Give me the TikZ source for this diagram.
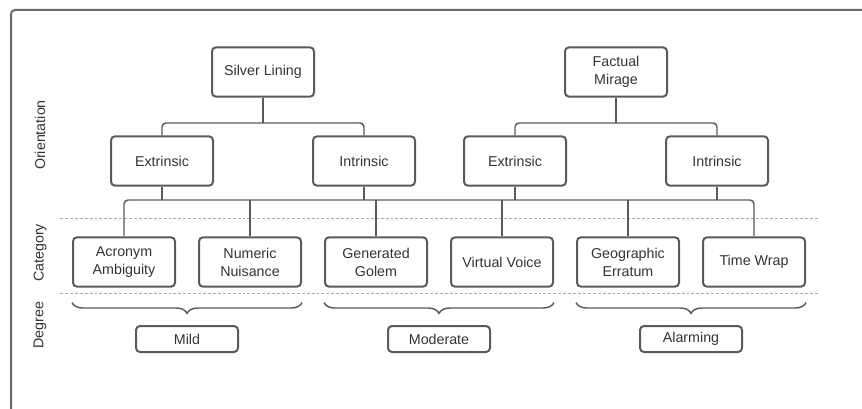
\documentclass[tikz,border=0pt]{standalone}
\usepackage{fontspec}
\setmainfont{Liberation Sans}
\usepackage{tikz}
\usetikzlibrary{positioning,calc,decorations.pathreplacing}
\definecolor{boxline}{HTML}{5A5A5A}
\definecolor{txtcol}{HTML}{333333}
\definecolor{sepcol}{HTML}{ABABAB}
\tikzset{
  box/.style={draw=boxline,line width=1.5pt,rounded corners=3pt,align=center,
    minimum width=76.5pt,minimum height=37pt,inner sep=2pt,text=txtcol},
  degbox/.style={box,minimum height=19.5pt},
  tree/.style={draw=boxline,line width=1.1pt,rounded corners=3pt},
  sep/.style={draw=sepcol,line width=0.7pt,dash pattern=on 2.2pt off 1.5pt},
  bracket/.style={draw=boxline,line width=1.1pt,decorate,
    decoration={brace,mirror,amplitude=8pt}},
  rowlabel/.style={rotate=90,text=txtcol}
}
\begin{document}
\begin{tikzpicture}[x=0.75pt,y=-0.75pt,node distance=94.5pt,on grid,
  font=\fontsize{10.7}{13.5}\selectfont]
  \useasboundingbox (0,0) rectangle (862,409);
  \draw[boxline!90,line width=1.5pt,rounded corners=3pt] (11,430) -- (11,10) -- (880,10);
  % row labels
  \node[rowlabel] (lorient) at (40,135) {Orientation};
  \node[rowlabel] (lcat) at (40,253) {Category};
  \node[rowlabel] (ldeg) at (40,325) {Degree};
  \path[sep] (60,218) -- (818,218);
  \path[sep] (60,293) -- (818,293);
  % roots
  \node[box] (silver) at (263,72) {Silver Lining};
  \node[box] (factual) at (616,72) {Factual\\Mirage};
  % orientation
  \node[box] (ext1) at (162,161) {Extrinsic};
  \node[box] (int1) [right = 151.5pt of ext1] {Intrinsic};
  \node[box] (ext2) [right = 113.25pt of int1] {Extrinsic};
  \node[box] (int2) [right = 151.5pt of ext2] {Intrinsic};
  % category
  \node[box] (acronym) at (124,262) {Acronym\\Ambiguity};
  \node[box] (numeric) [right = of acronym] {Numeric\\Nuisance};
  \node[box] (golem) [right = of numeric] {Generated\\Golem};
  \node[box] (voice) [right = of golem] {Virtual Voice};
  \node[box] (geo) [right = of voice] {Geographic\\Erratum};
  \node[box] (wrap) [right = of geo] {Time Wrap};
  % degree
  \node[degbox] (mild) at (187,339) {Mild};
  \node[degbox] (moderate) [right = 189pt of mild] {Moderate};
  \node[degbox] (alarming) [right = 189pt of moderate] {Alarming};
  % tree lines
  \coordinate (topbus) at (0,123);
  \coordinate (bus) at (0,200);
  \path[tree] (silver.south) -- (silver.south |- topbus);
  \path[tree] (ext1.north) -- (ext1.north |- topbus) -- (int1.north |- topbus) -- (int1.north);
  \path[tree] (factual.south) -- (factual.south |- topbus);
  \path[tree] (ext2.north) -- (ext2.north |- topbus) -- (int2.north |- topbus) -- (int2.north);
  \path[tree] (acronym.north) -- (acronym.north |- bus) -- (wrap.north |- bus) -- (wrap.north);
  \foreach \n in {ext1,int1,ext2,int2}
    \path[tree] (\n.south) -- (\n.south |- bus);
  \foreach \n in {numeric,golem,voice,geo}
    \path[tree] (\n.north) -- (\n.north |- bus);
  % braces
  \path[bracket] ($(acronym.south west)+(0,15)$) -- ($(numeric.south east)+(0,15)$);
  \path[bracket] ($(golem.south west)+(0,15)$) -- ($(voice.south east)+(0,15)$);
  \path[bracket] ($(geo.south west)+(0,15)$) -- ($(wrap.south east)+(0,15)$);
\end{tikzpicture}
\end{document}
